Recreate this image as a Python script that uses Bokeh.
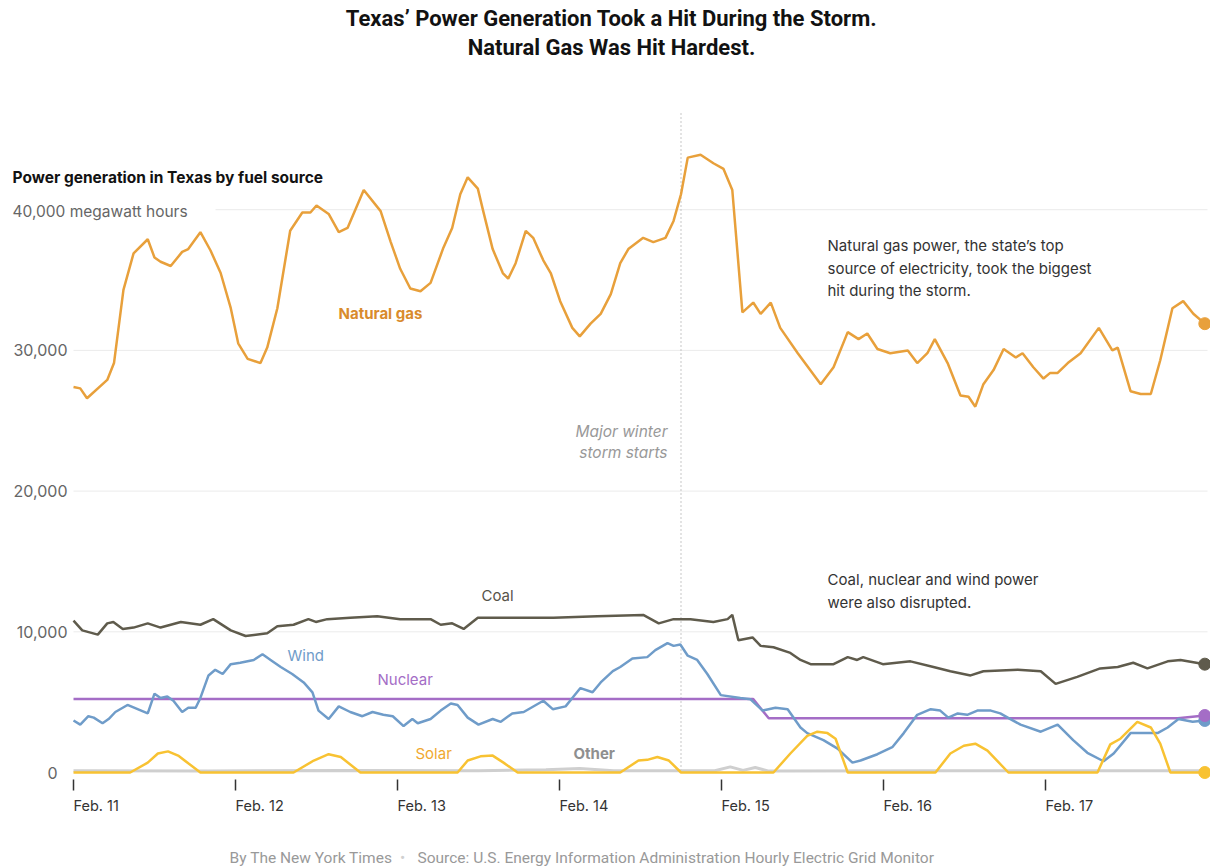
import numpy as np
from bokeh.plotting import figure
from bokeh.models import Range1d
from bokeh.core.properties import value
from bokeh.embed import file_html
from bokeh.resources import INLINE

# ---------------- data (hours since Feb. 11 00:00, thousands of MWh) ----------------
gas_h = [0, 1, 2, 5, 6, 7.4, 8.9, 11, 12, 12.9, 14.4, 16.1, 17, 18.8, 20.3, 21.8, 23.3, 24.4, 25.8, 27.7,
         28.7, 30.2, 32.1, 33.9, 35.1, 36, 37.8, 39.3, 40.6, 43, 45.5, 47, 48.4, 49.9, 51.4, 52.9, 54.8, 56.1,
         57.3, 58.4, 59.9, 60.7, 62.1, 63.6, 64.4, 65.5, 67, 68.1, 69.6, 70.7, 72.1, 73.9, 75, 76.6, 78.1, 79.6,
         81, 82.2, 84.4, 85.9, 87.7, 88.9, 90, 91, 92.9, 94.8, 96.3, 97.6, 98.1, 99.1, 100.7, 101.8, 103.3,
         104.7, 107.3, 110.7, 112.6, 114.7, 116.3, 117.6, 119.1, 121, 123.6, 125, 126.5, 127.6, 129.5, 131.4,
         132.6, 133.6, 134.8, 136.3, 137.8, 139.6, 140.6, 142.2, 143.7, 144.7, 145.8, 147.3, 149.2, 151.9,
         153.9, 154.7, 156.6, 158.1, 159.6, 161, 162.8, 164.4, 165.9, 167.6]
gas_v = [27.4, 27.3, 26.6, 27.9, 29.1, 34.3, 36.9, 37.9, 36.6, 36.3, 36.0, 37.0, 37.2, 38.4, 37.1, 35.5, 33.0,
         30.5, 29.4, 29.1, 30.2, 33.0, 38.5, 39.8, 39.8, 40.3, 39.7, 38.4, 38.7, 41.4, 39.9, 37.7, 35.8, 34.4,
         34.2, 34.8, 37.3, 38.7, 41.1, 42.3, 41.5, 39.9, 37.2, 35.5, 35.1, 36.2, 38.5, 38.0, 36.4, 35.5, 33.5,
         31.6, 31.0, 31.9, 32.6, 34.0, 36.2, 37.2, 38.0, 37.7, 38.0, 39.2, 41.1, 43.7, 43.9, 43.3, 42.9, 41.4,
         38.5, 32.7, 33.4, 32.6, 33.4, 31.6, 29.8, 27.6, 28.8, 31.3, 30.8, 31.2, 30.1, 29.8, 30.0, 29.1, 29.8,
         30.8, 29.1, 26.8, 26.7, 26.0, 27.6, 28.6, 30.1, 29.5, 29.8, 28.8, 28.0, 28.4, 28.4, 29.1, 29.8, 31.6,
         30.0, 30.2, 27.1, 26.9, 26.9, 29.3, 33.0, 33.5, 32.6, 31.9]

coal_h = [0, 1.3, 3.6, 5, 5.9, 7.3, 8.9, 11, 12.9, 15.9, 18.8, 20.7, 23.3, 25.5, 28.7, 30.2, 32.6, 34.8, 35.9,
          37.6, 41, 45, 48.4, 52.9, 54.4, 56.1, 57.8, 59.9, 65.2, 71.1, 77.6, 84.4, 86.7, 88.9, 91.4, 94.8,
          96.9, 97.6, 98.5, 100.6, 101.8, 103.7, 106.2, 107.7, 109.2, 112.6, 114.7, 116.1, 117, 119.9, 124,
          127.4, 129.9, 132.9, 134.8, 139.9, 143.3, 145.5, 148.7, 152.1, 154.7, 157, 159.1, 162.1, 164, 167.6]
coal_v = [10.8, 10.1, 9.8, 10.6, 10.7, 10.2, 10.3, 10.6, 10.3, 10.7, 10.5, 10.9, 10.1, 9.7, 9.9, 10.4, 10.5,
          10.9, 10.7, 10.9, 11.0, 11.1, 10.9, 10.9, 10.5, 10.6, 10.2, 11.0, 11.0, 11.0, 11.1, 11.2, 10.6, 10.9,
          10.9, 10.7, 10.9, 11.2, 9.4, 9.6, 9.0, 8.9, 8.5, 8.0, 7.7, 7.7, 8.2, 8.0, 8.2, 7.7, 7.9, 7.5, 7.2, 6.9,
          7.2, 7.3, 7.2, 6.3, 6.8, 7.4, 7.5, 7.8, 7.4, 7.9, 8.0, 7.7]

wind_h = [0, 1, 2.2, 3, 4.3, 5.2, 6.2, 8, 9.5, 11, 12, 12.9, 13.9, 14.8, 16.1, 17, 18.1, 18.8, 20, 21, 22.1,
          23.3, 24.7, 26.7, 28, 29.2, 30.7, 32.4, 34.1, 35.4, 36.3, 37.8, 39.3, 41, 42.8, 44.3, 45.9, 47.3,
          48.9, 50.2, 51, 52.9, 54.4, 55.9, 56.9, 58.4, 60, 62.1, 63.3, 65, 66.7, 69.6, 71, 72.9, 73.9, 75.1,
          76.9, 78.1, 79.9, 81, 82.8, 85, 86.2, 88, 88.9, 89.9, 91, 92.4, 93.9, 95.9, 98.8, 100.3, 102.1, 104,
          105.8, 107.7, 108.7, 111.1, 113.2, 115.4, 116.6, 119.1, 121.3, 123, 125, 127, 128.4, 129.6, 131,
          132.4, 133.9, 135.9, 137.3, 138.8, 140.3, 143.3, 145.8, 148.1, 150.2, 152.6, 154.1, 156.6, 158.1,
          160.6, 162.1, 163.7, 165.8, 167.6]
wind_v = [3.7, 3.4, 4.0, 3.9, 3.5, 3.8, 4.3, 4.8, 4.5, 4.2, 5.6, 5.3, 5.4, 5.1, 4.3, 4.6, 4.6, 5.3, 6.9, 7.3,
          7.0, 7.7, 7.8, 8.0, 8.4, 8.0, 7.5, 7.0, 6.4, 5.7, 4.4, 3.8, 4.7, 4.3, 4.0, 4.3, 4.1, 4.0, 3.3, 3.8,
          3.5, 3.8, 4.4, 4.9, 4.8, 3.9, 3.4, 3.8, 3.6, 4.2, 4.3, 5.1, 4.5, 4.7, 5.3, 6.0, 5.7, 6.4, 7.2, 7.5,
          8.1, 8.2, 8.7, 9.2, 9.0, 9.1, 8.3, 8.0, 7.0, 5.5, 5.3, 5.2, 4.4, 4.6, 4.5, 3.2, 2.8, 2.3, 1.7, 0.7,
          0.85, 1.3, 1.8, 2.8, 4.1, 4.5, 4.4, 3.9, 4.2, 4.1, 4.4, 4.4, 4.2, 3.8, 3.4, 2.9, 3.4, 2.3, 1.4, 0.8,
          1.35, 2.8, 2.8, 2.8, 3.2, 3.8, 3.6, 3.7]

nuclear_h = [0, 100.7, 103.0, 163.6, 167.6]
nuclear_v = [5.22, 5.22, 3.85, 3.85, 4.05]

solar_h = [0, 8.4, 11, 12.5, 14, 15.5, 17, 18.8, 32.6, 35.6, 37.8, 39.6, 42.5, 56.9, 58.4, 60.3, 62.1, 63.7,
           65.8, 81, 83.7, 85, 86.5, 88.2, 90, 103.7, 106.2, 108.7, 110.2, 111.7, 112.9, 114.7, 127.7, 129.9,
           131.9, 133.6, 135.4, 138.5, 151.7, 153.6, 155.1, 157.6, 159.6, 161, 162.5, 167.6]
solar_v = [0, 0, 0.7, 1.35, 1.5, 1.2, 0.65, 0, 0, 0.85, 1.3, 1.1, 0, 0, 0.85, 1.15, 1.2, 0.7, 0, 0, 0.85, 0.9,
           1.1, 0.85, 0, 0, 1.35, 2.6, 2.9, 2.8, 2.4, 0, 0, 1.35, 1.9, 2.05, 1.55, 0, 0, 2.0, 2.4, 3.6, 3.2,
           2.05, 0, 0]

other_h = [0, 20, 40, 60, 70, 75, 80, 95, 97.3, 99.2, 101, 103, 130, 167.6]
other_v = [0.12, 0.1, 0.15, 0.12, 0.2, 0.28, 0.12, 0.12, 0.4, 0.15, 0.35, 0.1, 0.12, 0.12]

day_labels = ["Feb. 11", "Feb. 12", "Feb. 13", "Feb. 14", "Feb. 15", "Feb. 16", "Feb. 17"]
y_ticks = [0, 10000, 20000, 30000]
y_tick_labels = ["0", "10,000", "20,000", "30,000"]
storm_hour = 90  # Feb. 14, 18:00

# ---------------- layout helpers (page pixel -> data) ----------------
W, H = 1210, 866
X0, XS = 73.0, 6.75     # page x of hour 0, px per hour
Y0, YS = 772.0, 14.07   # page y of 0 MWh, px per 1000 MWh


def hx(px):
    return (px - X0) / XS


def vy(py):
    return (Y0 - py) / YS * 1000.0


p = figure(width=W, height=H, output_backend="svg", toolbar_location=None,
           x_range=Range1d(hx(0), hx(W)), y_range=Range1d(vy(H), vy(0)),
           x_axis_type=None, y_axis_type=None, min_border=0)
p.outline_line_color = None
p.grid.visible = False
p.background_fill_color = "white"

FONT = "Inter"
HEAD = "Roboto"

# gridlines
grid_vals = [10000, 20000, 30000, 40000]
grid_x0 = [0, 0, 0, hx(215)]
p.segment(x0=grid_x0, y0=grid_vals, x1=[hx(1207)] * 4, y1=grid_vals, line_color="#ebebeb", line_width=1)

# storm line
p.segment(x0=[storm_hour], y0=[vy(113)], x1=[storm_hour], y1=[0], line_color="#b5b5b5",
          line_width=1.5, line_dash="1 3")

k = 1000.0
p.line(other_h, np.array(other_v) * k, line_color="#cfcfcf", line_width=3)
p.line(nuclear_h, np.array(nuclear_v) * k, line_color="#a46dc6", line_width=2.5)
p.line(wind_h, np.array(wind_v) * k, line_color="#6f9cc9", line_width=2.5)
p.line(solar_h, np.array(solar_v) * k, line_color="#f8c232", line_width=2.5)
p.line(coal_h, np.array(coal_v) * k, line_color="#5f5b4c", line_width=2.5)
p.line(gas_h, np.array(gas_v) * k, line_color="#e8a03b", line_width=2.5)

# end dots
p.scatter([coal_h[-1]], [coal_v[-1] * k], size=12, color="#5f5b4c")
p.scatter([wind_h[-1]], [wind_v[-1] * k], size=12, color="#6f9cc9")
p.scatter([nuclear_h[-1]], [nuclear_v[-1] * k], size=12, color="#a46dc6")
p.scatter([solar_h[-1]], [solar_v[-1] * k], size=12, color="#f8c232")
p.scatter([gas_h[-1]], [gas_v[-1] * k], size=12, color="#e8a03b")

# x ticks and labels
tick_h = [24 * i for i in range(len(day_labels))]
p.segment(x0=tick_h, y0=[vy(779)] * len(tick_h), x1=tick_h, y1=[vy(790)] * len(tick_h),
          line_color="#333333", line_width=1.5)
p.text(x=tick_h, y=[vy(805)] * len(tick_h), text=day_labels, text_font=value(FONT), text_font_size="14.5px",
       text_color="#333333", text_align="left", text_baseline="middle")

# y tick labels
ylx = [hx(57)] + [hx(67)] * 3
p.text(x=ylx, y=[vy(Y0 - t / 1000 * YS) for t in y_ticks], text=y_tick_labels, text_font=value(FONT),
       text_font_size="16px", text_color="#666666", text_align="right", text_baseline="middle")


def txt(px, py, s, size="15px", color="#333333", align="left", font=FONT, style="normal"):
    p.text(x=[hx(px)], y=[vy(py)], text=[s], text_font=value(font), text_font_size=size, text_color=color,
           text_align=align, text_baseline="middle", text_font_style=style)


txt(12, 211, "40,000 megawatt hours", size="15.5px", color="#666666")
txt(12, 177, "Power generation in Texas by fuel source", size="15.5px", color="#121212", style="bold")

# titles
txt(611, 18, "Texas\u2019 Power Generation Took a Hit During the Storm.", size="22px", color="#121212",
    align="center", font=HEAD, style="bold")
txt(611, 47, "Natural Gas Was Hit Hardest.", size="22px", color="#121212", align="center", font=HEAD,
    style="bold")

# series labels
txt(338, 313, "Natural gas", size="15px", color="#d98b2c", style="bold")
txt(481, 595, "Coal", size="15px", color="#57534a")
txt(287, 655, "Wind", size="15px", color="#6f9cc9")
txt(377, 679, "Nuclear", size="15px", color="#a46dc6")
txt(415, 753, "Solar", size="15px", color="#f0a92f")
txt(573, 753, "Other", size="15px", color="#8f8f8f", style="bold")

# annotations
txt(667, 431, "Major winter", size="15.5px", color="#999999", align="right", style="italic")
txt(667, 452, "storm starts", size="15.5px", color="#999999", align="right", style="italic")
for i, s in enumerate(["Natural gas power, the state\u2019s top", "source of electricity, took the biggest",
                       "hit during the storm."]):
    txt(827, 245 + 22.5 * i, s, size="15px", color="#333333")
for i, s in enumerate(["Coal, nuclear and wind power", "were also disrupted."]):
    txt(827, 579 + 22.5 * i, s, size="15px", color="#333333")

# footer
txt(392, 857, "By The New York Times", size="15.5px", color="#999999", align="right", font=HEAD)
txt(402, 857, "\u2022", size="15.5px", color="#d0d0d0", align="center", font=HEAD)
txt(417, 857, "Source: U.S. Energy Information Administration Hourly Electric Grid Monitor",
    size="15.5px", color="#999999", align="left", font=HEAD)

open("out.html", "w").write(file_html(p, INLINE))
